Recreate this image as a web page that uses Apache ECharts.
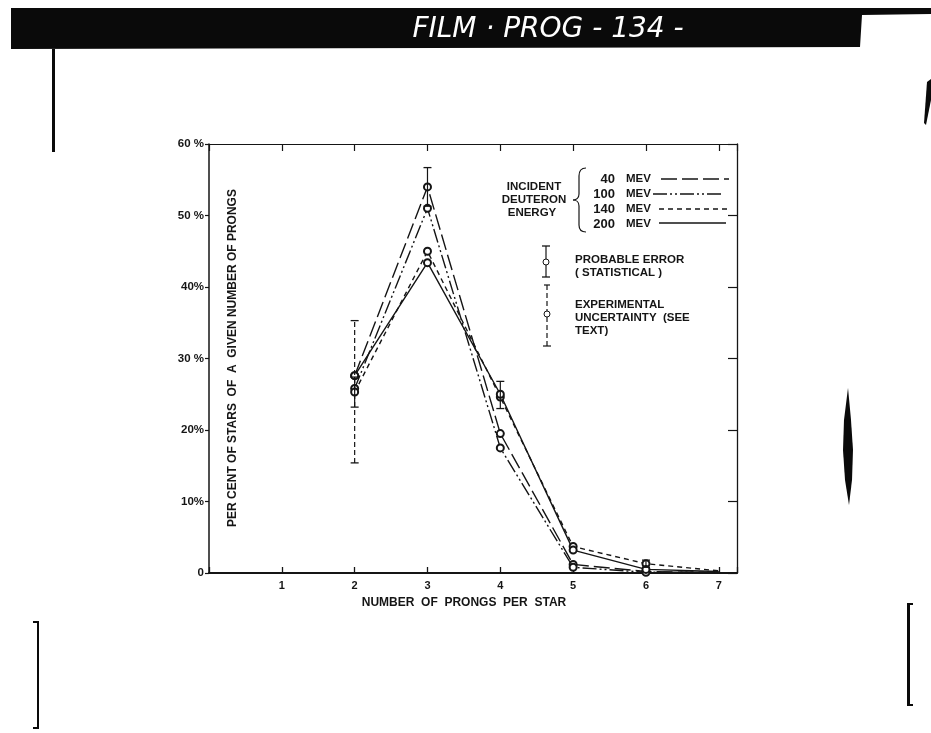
<!DOCTYPE html>
<html>
<head>
<meta charset="utf-8">
<script src="https://cdn.jsdelivr.net/npm/echarts@6/dist/echarts.min.js"></script>
<style>
  html, body { margin: 0; padding: 0; background: #fff; }
  #chart { width: 931px; height: 733px; }
</style>
</head>
<body>
<div id="chart"></div>
<script>
// number of prongs per star
var prongs = [2, 3, 4, 5, 6, 7];
// per cent of stars, one list per incident deuteron energy
var mev40 = [27.6, 54.0, 19.5, 1.2, 0.2, 0.1];
var mev100 = [25.8, 51.0, 17.5, 0.8, 0.1, 0.1];
var mev140 = [25.3, 45.0, 24.6, 3.7, 1.3, 0.3];
var mev200 = [27.6, 43.4, 25.0, 3.2, 0.5, 0.2];
// probable error (statistical)
var probX = [2, 3, 4, 6];
var probLow = [23.2, 51.3, 23.0, 0.8];
var probHigh = [27.4, 56.7, 26.8, 1.8];
// experimental uncertainty
var expX = [2];
var expLow = [15.4];
var expHigh = [35.3];
var xTickLabels = ['', '1', '2', '3', '4', '5', '6', '7'];
var yTickLabels = ['0', '10%', '20%', '30 %', '40%', '50 %', '60 %'];

var INK = '#151515';
var FONT = '"Liberation Sans", Arial, sans-serif';

function pairs(ys) {
  return prongs.map(function (x, i) { return [x, ys[i]]; });
}
function lineSeries(name, ys, dash) {
  return {
    name: name,
    type: 'line',
    data: pairs(ys),
    symbol: 'emptyCircle',
    symbolSize: function (v) { return v[0] === 7 ? 0 : 7; },
    lineStyle: { color: INK, width: 1.4, type: dash },
    itemStyle: { color: INK, borderColor: INK, borderWidth: 1.1 },
    z: 3
  };
}
function barData(xs, lo, hi) {
  return xs.map(function (x, i) { return [x, lo[i], hi[i]]; });
}
function errorBars(dashed) {
  return function (params, api) {
    var x = api.value(0);
    var lo = api.coord([x, api.value(1)]);
    var hi = api.coord([x, api.value(2)]);
    var cap = 4;
    var barStyle = { stroke: INK, lineWidth: 1.2 };
    if (dashed) barStyle.lineDash = [5, 3];
    var capStyle = { stroke: INK, lineWidth: 1.3 };
    return {
      type: 'group',
      children: [
        { type: 'line', shape: { x1: lo[0], y1: lo[1], x2: hi[0], y2: hi[1] }, style: barStyle },
        { type: 'line', shape: { x1: lo[0] - cap, y1: lo[1], x2: lo[0] + cap, y2: lo[1] }, style: capStyle },
        { type: 'line', shape: { x1: hi[0] - cap, y1: hi[1], x2: hi[0] + cap, y2: hi[1] }, style: capStyle }
      ]
    };
  };
}
function txt(x, y, s, size, align, extra) {
  var st = { text: s, fill: INK, font: 'bold ' + size + 'px ' + FONT, textAlign: align || 'left', textVerticalAlign: 'middle' };
  var el = { type: 'text', x: x, y: y, style: st, z: 10 };
  if (extra) for (var k in extra) el[k] = extra[k];
  return el;
}
function seg(x1, y1, x2, y2, dash, w) {
  var st = { stroke: INK, lineWidth: w || 1.4 };
  if (dash) st.lineDash = dash;
  return { type: 'line', shape: { x1: x1, y1: y1, x2: x2, y2: y2 }, style: st, z: 10 };
}
function curve(x1, y1, cx1, cy1, cx2, cy2, x2, y2) {
  return { type: 'bezierCurve', shape: { x1: x1, y1: y1, cpx1: cx1, cpy1: cy1, cpx2: cx2, cpy2: cy2, x2: x2, y2: y2 },
    style: { stroke: INK, lineWidth: 1.2, fill: null }, z: 10 };
}
function blob(points) {
  return { type: 'polygon', shape: { points: points }, style: { fill: '#0a0a0a' }, z: 1 };
}

var chart = echarts.init(document.getElementById('chart'));
chart.setOption({
  backgroundColor: '#fff',
  animation: false,
  grid: { left: 209, top: 144, width: 528, height: 429 },
  xAxis: [{
    type: 'value', min: 0, max: 7.25, interval: 1, position: 'bottom',
    axisLine: { onZero: false, lineStyle: { color: INK, width: 2 } },
    axisTick: { inside: true, length: 6, lineStyle: { color: INK, width: 1.3 } },
    axisLabel: { formatter: function (v) { return xTickLabels[v] || ''; }, color: INK, fontFamily: FONT, fontWeight: 'bold', fontSize: 11, margin: 7 },
    splitLine: { show: false }
  }, {
    type: 'value', min: 0, max: 7.25, interval: 1, position: 'top',
    axisLine: { onZero: false, lineStyle: { color: INK, width: 1.2 } },
    axisTick: { inside: true, length: 7, lineStyle: { color: INK, width: 1.2 } },
    axisLabel: { show: false },
    splitLine: { show: false }
  }],
  yAxis: [{
    type: 'value', min: 0, max: 60, interval: 10, position: 'left',
    axisLine: { show: true, onZero: false, lineStyle: { color: INK, width: 1.5 } },
    axisTick: { show: true, inside: false, length: 4, lineStyle: { color: INK, width: 1.2 } },
    axisLabel: { formatter: function (v) { return yTickLabels[Math.round(v / 10)]; }, color: INK, fontFamily: FONT, fontWeight: 'bold', fontSize: 11.5, margin: 5 },
    splitLine: { show: false }
  }, {
    type: 'value', min: 0, max: 60, interval: 10, position: 'right',
    axisLine: { show: true, onZero: false, lineStyle: { color: INK, width: 1.3 } },
    axisTick: { show: true, inside: true, length: 9, lineStyle: { color: INK, width: 1.2 } },
    axisLabel: { show: false },
    splitLine: { show: false }
  }],
  series: [
    lineSeries('40 MEV', mev40, [16, 5]),
    lineSeries('100 MEV', mev100, [14, 3, 2, 3, 2, 3]),
    lineSeries('140 MEV', mev140, [5, 4]),
    lineSeries('200 MEV', mev200, 'solid'),
    { name: 'probable error', type: 'custom', renderItem: errorBars(false), data: barData(probX, probLow, probHigh),
      encode: { x: 0, y: [1, 2] }, z: 4 },
    { name: 'experimental uncertainty', type: 'custom', renderItem: errorBars(true), data: barData(expX, expLow, expHigh),
      encode: { x: 0, y: [1, 2] }, z: 4 }
  ],
  graphic: [
    // film header band
    blob([[11, 8], [931, 8], [931, 14], [862, 15], [860, 47], [11, 49]]),
    { type: 'text', x: 548, y: 30, z: 11, style: { text: 'FILM · PROG - 134 -', fill: '#fff',
      font: 'italic 28px "DejaVu Sans", sans-serif', textAlign: 'center', textVerticalAlign: 'middle' } },
    // scan marks
    { type: 'rect', shape: { x: 52, y: 49, width: 3, height: 103 }, style: { fill: '#0a0a0a' }, z: 1 },
    blob([[927, 82], [931, 79], [931, 100], [926, 125], [924, 123]]),
    blob([[848, 388], [851, 420], [853, 450], [852, 480], [849, 505], [845, 480], [843, 450], [844, 420]]),
    blob([[33, 621], [39, 621], [39, 729], [33, 729], [33, 727], [37, 727], [37, 623], [33, 623]]),
    blob([[907, 603], [913, 603], [913, 605], [910, 605], [910, 704], [913, 704], [913, 706], [907, 706]]),
    // axis titles
    txt(233, 358, 'PER CENT OF STARS  OF  A  GIVEN NUMBER OF PRONGS', 12, 'center', { rotation: Math.PI / 2 }),
    txt(464, 603, 'NUMBER  OF  PRONGS  PER  STAR', 12, 'center'),
    // energy key
    txt(534, 187, 'INCIDENT', 11.5, 'center'),
    txt(534, 200, 'DEUTERON', 11.5, 'center'),
    txt(532, 213, 'ENERGY', 11.5, 'center'),
    curve(586, 168, 581, 168, 579, 171, 579, 176),
    seg(579, 176, 579, 194, null, 1.2),
    curve(579, 194, 579, 198, 576, 200, 573, 200),
    curve(573, 200, 576, 200, 579, 202, 579, 206),
    seg(579, 206, 579, 225, null, 1.2),
    curve(579, 225, 579, 230, 581, 232, 586, 232),
    txt(615, 179, '40', 13, 'right'),
    txt(615, 194, '100', 13, 'right'),
    txt(615, 209, '140', 13, 'right'),
    txt(615, 224, '200', 13, 'right'),
    txt(626, 179, 'MEV', 11.5),
    txt(626, 194, 'MEV', 11.5),
    txt(626, 209, 'MEV', 11.5),
    txt(626, 224, 'MEV', 11.5),
    seg(661, 179, 729, 179, [16, 5]),
    seg(653, 194, 723, 194, [14, 3, 2, 3, 2, 3]),
    seg(659, 209, 727, 209, [5, 4]),
    seg(659, 223, 726, 223),
    // error key
    seg(546, 246, 546, 277, null, 1.2),
    seg(542, 246, 550, 246, null, 1.3),
    seg(542, 277, 550, 277, null, 1.3),
    { type: 'circle', shape: { cx: 546, cy: 262, r: 3 }, style: { fill: '#fff', stroke: INK, lineWidth: 1 }, z: 11 },
    txt(575, 260, 'PROBABLE ERROR', 11.5),
    txt(575, 273, '( STATISTICAL )', 11.5),
    seg(547, 285, 547, 346, [5, 3], 1.2),
    seg(544, 285, 550, 285, null, 1.2),
    seg(543, 346, 551, 346, null, 1.2),
    { type: 'circle', shape: { cx: 547, cy: 314, r: 3 }, style: { fill: '#fff', stroke: INK, lineWidth: 1 }, z: 11 },
    txt(575, 305, 'EXPERIMENTAL', 11.5),
    txt(575, 318, 'UNCERTAINTY  (SEE', 11.5),
    txt(575, 331, 'TEXT)', 11.5)
  ]
});
</script>
</body>
</html>
